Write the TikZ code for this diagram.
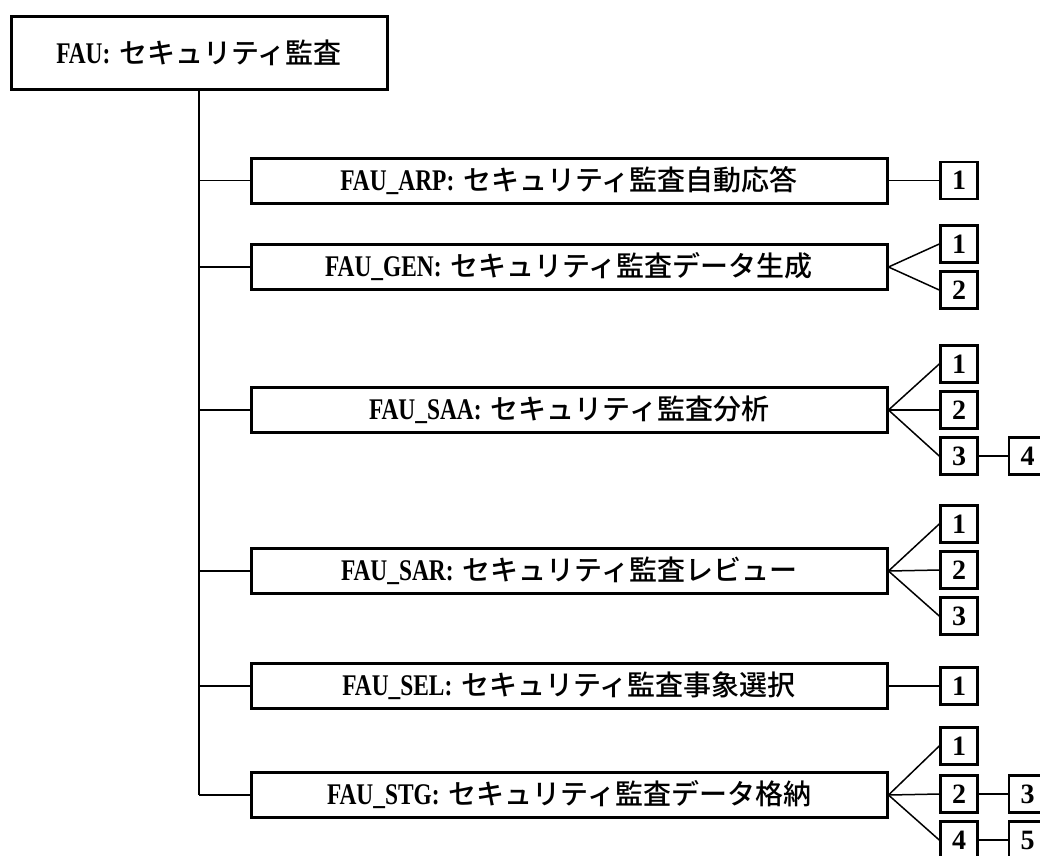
\documentclass[tikz,border=0pt]{standalone}
\usepackage{fontspec}
\setmainfont{Liberation Serif}[FakeStretch=0.78]
\newfontfamily\numfont{Liberation Serif}
\newfontfamily\jp{Noto Sans CJK JP}[BoldFont={Noto Sans CJK JP Medium}]
\newcommand{\jl}[2]{#1\hspace{9pt}{\jp\fontsize{28}{32}\selectfont #2}}
\begin{document}
\begin{tikzpicture}[x=1pt,y=-1pt,
  lbl/.style={font=\fontsize{30}{32}\selectfont\bfseries},
  topbox/.style={draw, line width=3pt, minimum width=376pt, minimum height=73pt, inner sep=0pt, lbl},
  bigbox/.style={draw, line width=3pt, minimum width=636pt, minimum height=45pt, inner sep=0pt, lbl},
  numbox/.style={draw, line width=2.5pt, minimum width=37pt, minimum height=37pt, inner sep=0pt, font=\numfont\fontsize{28}{32}\selectfont\bfseries},
  conn/.style={line width=1.5pt}]
\useasboundingbox (0,0) rectangle (1040,855);
\node[topbox] (fau) at (199,52.5) {\jl{FAU:}{セキュリティ監査}};
\node[bigbox] (arp) at (569,180.5) {\jl{FAU\_ARP:}{セキュリティ監査自動応答}};
\node[bigbox] (gen) at (569,267) {\jl{FAU\_GEN:}{セキュリティ監査データ生成}};
\node[bigbox] (saa) at (569,410) {\jl{FAU\_SAA:}{セキュリティ監査分析}};
\node[bigbox] (sar) at (569,571) {\jl{FAU\_SAR:}{セキュリティ監査レビュー}};
\node[bigbox] (sel) at (569,686) {\jl{FAU\_SEL:}{セキュリティ監査事象選択}};
\node[bigbox] (stg) at (569,795) {\jl{FAU\_STG:}{セキュリティ監査データ格納}};
% small boxes
\node[numbox] (arp1) at (959,180.5) {1};
\node[numbox] (gen1) at (959,244) {1};
\node[numbox] (gen2) at (959,290) {2};
\node[numbox] (saa1) at (959,364) {1};
\node[numbox] (saa2) at (959,410) {2};
\node[numbox] (saa3) at (959,456) {3};
\node[numbox] (saa4) at (1027.5,456) {4};
\node[numbox] (sar1) at (959,524) {1};
\node[numbox] (sar2) at (959,570) {2};
\node[numbox] (sar3) at (959,616) {3};
\node[numbox] (sel1) at (959,686) {1};
\node[numbox] (stg1) at (959,746) {1};
\node[numbox] (stg2) at (959,794) {2};
\node[numbox] (stg3) at (1027.5,794) {3};
\node[numbox] (stg4) at (959,840) {4};
\node[numbox] (stg5) at (1027.5,840) {5};
% trunk
\coordinate (trunkend) at (fau.south |- stg.west);
\draw[conn] (fau.south) -- (trunkend);
\foreach \b in {arp,gen,saa,sar,sel,stg}{
  \draw[conn] (fau.south |- \b.west) -- (\b.west);
}
% fans
\draw[conn] (arp.east) -- (arp1.west);
\draw[conn] (gen.east) -- (gen1.west);
\draw[conn] (gen.east) -- (gen2.west);
\draw[conn] (saa.east) -- (saa1.west);
\draw[conn] (saa.east) -- (saa2.west);
\draw[conn] (saa.east) -- (saa3.west);
\draw[conn] (saa3.east) -- (saa4.west);
\draw[conn] (sar.east) -- (sar1.west);
\draw[conn] (sar.east) -- (sar2.west);
\draw[conn] (sar.east) -- (sar3.west);
\draw[conn] (sel.east) -- (sel1.west);
\draw[conn] (stg.east) -- (stg1.west);
\draw[conn] (stg.east) -- (stg2.west);
\draw[conn] (stg.east) -- (stg4.west);
\draw[conn] (stg2.east) -- (stg3.west);
\draw[conn] (stg4.east) -- (stg5.west);
\end{tikzpicture}
\end{document}
